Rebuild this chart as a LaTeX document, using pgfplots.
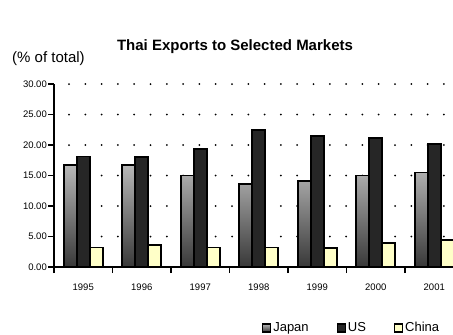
\documentclass[border=0pt]{standalone}
\usepackage{fontspec}
\setmainfont{Liberation Sans}
\usepackage{pgfplots}
\pgfplotsset{compat=1.18}
\definecolor{usfill}{HTML}{262626}
\definecolor{chinafill}{HTML}{FFFFC8}
\begin{document}
\begin{tikzpicture}[x=1pt,y=1pt]
\useasboundingbox (0,0) rectangle (453,335);
\node[font=\fontsize{15}{17}\selectfont\bfseries] at (235,288) {Thai Exports to Selected Markets};
\node[font=\fontsize{15}{17}\selectfont, anchor=west, inner sep=0pt] at (12,276) {(\% of total)};
\begin{axis}[
  at={(54pt,68pt)}, anchor=south west, scale only axis,
  width=399pt, height=183pt,
  xmin=-0.5, xmax=6.32, ymin=0, ymax=30,
  ybar=0pt, bar width=13pt,
  axis x line*=bottom, axis y line*=left,
  axis line style={-},
  x axis line style={line width=1.8pt},
  y axis line style={line width=2.4pt},
  tick align=outside,
  major tick length=6pt,
  tick style={black, line width=1.4pt},
  xtick={-0.5,0.5,1.5,2.5,3.5,4.5,5.5},
  xticklabels={,,,,,,},
  extra x ticks={0,1,2,3,4,5,6},
  extra x tick labels={1995,1996,1997,1998,1999,2000,2001},
  extra x tick style={tick style={draw=none}},
  ytick={0,5,10,15,20,25,30},
  yticklabels={0.00,5.00,10.00,15.00,20.00,25.00,30.00},
  ticklabel style={font=\fontsize{9.5}{11}\selectfont},
  xticklabel style={yshift=-7pt},
  yticklabel style={inner sep=1pt},
  /pgf/number format/assume math mode=true,
  ymajorgrids,
  grid style={black, line width=2pt, line cap=round, dash pattern=on 0pt off 16.3pt, dash phase=1.3pt},
  legend image code/.code={\draw[#1, line width=1.2pt] (0pt,-4pt) rectangle (8pt,4pt);},
  legend style={at={(axis description cs:0.521,-0.333)}, anchor=west, draw=none, fill=none,
    font=\fontsize{13}{15}\selectfont, inner sep=0pt,
    /tikz/every even column/.append style={column sep=26pt}},
  legend columns=3,
]
\addplot[draw=black, line width=1.8pt, top color=black!28, bottom color=black!78] coordinates {(0,16.7) (1,16.7) (2,15.0) (3,13.6) (4,14.1) (5,15.0) (6,15.5)};
\addplot[draw=black, line width=1.8pt, fill=usfill] coordinates {(0,18.1) (1,18.0) (2,19.3) (3,22.4) (4,21.5) (5,21.1) (6,20.2)};
\addplot[draw=black, line width=1.8pt, fill=chinafill] coordinates {(0,3.2) (1,3.6) (2,3.2) (3,3.2) (4,3.1) (5,4.0) (6,4.4)};
\legend{Japan,US,China}
\end{axis}
\end{tikzpicture}
\end{document}
